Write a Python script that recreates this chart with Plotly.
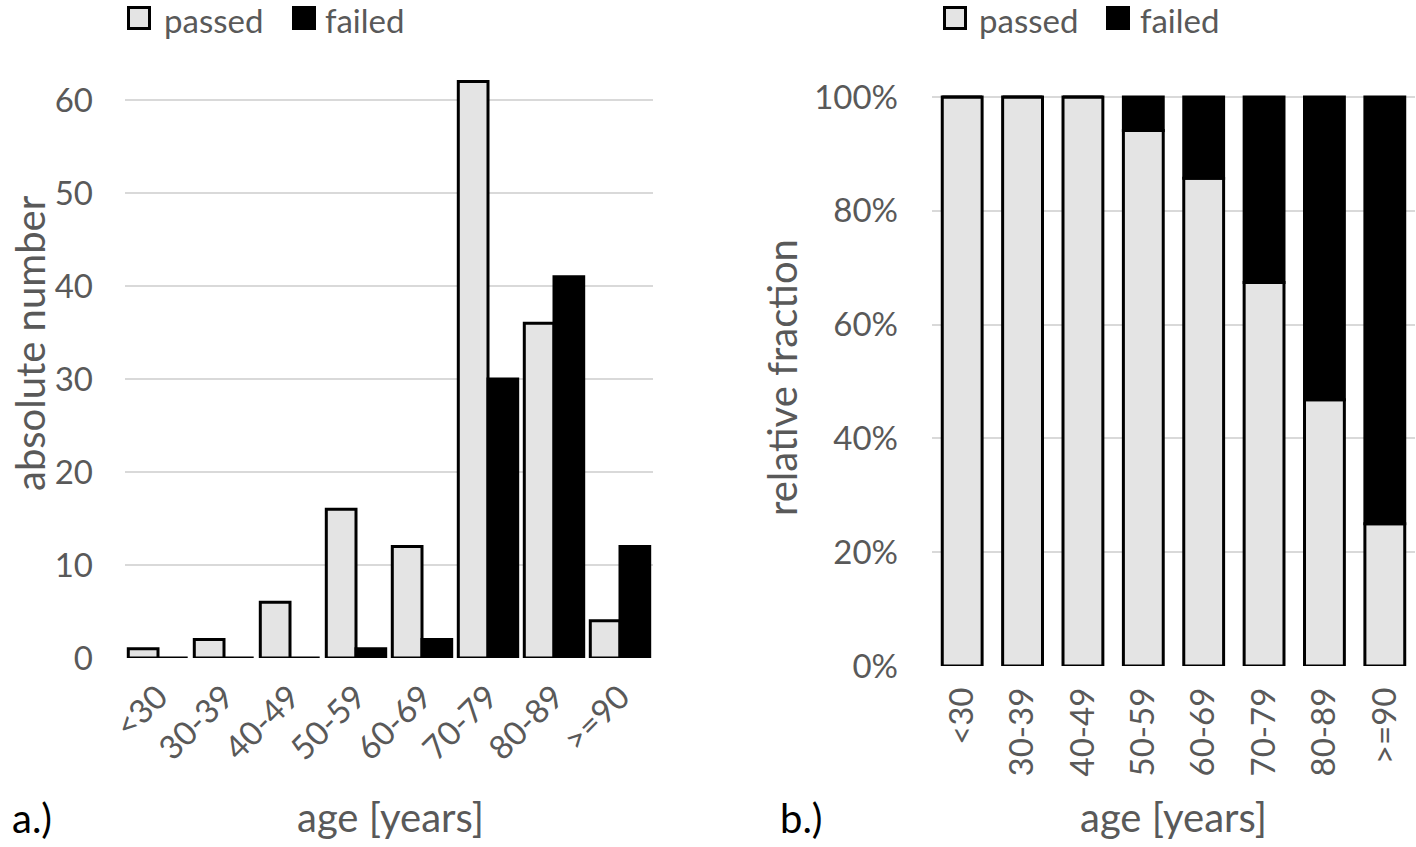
import plotly.graph_objects as go
from plotly.subplots import make_subplots

ages = ["<30", "30-39", "40-49", "50-59", "60-69", "70-79", "80-89", ">=90"]
passed = [1, 2, 6, 16, 12, 62, 36, 4]
failed = [0, 0, 0, 1, 2, 30, 41, 12]
# relative fraction in percent
passed_pct = [100, 100, 100, 94.1, 85.7, 67.4, 46.8, 25.0]
failed_pct = [0, 0, 0, 5.9, 14.3, 32.6, 53.2, 75.0]
y_ticks_abs = [0, 10, 20, 30, 40, 50, 60]
y_ticks_rel = [0, 20, 40, 60, 80, 100]
y_ticks_rel_text = ["0%", "20%", "40%", "60%", "80%", "100%"]

W, H = 1416, 847
GRAY_FILL = "#e4e4e4"
TXT = "#595959"
GRID = "#d9d9d9"
FONT = "Lato, Open Sans, sans-serif"
FS = 33      # tick labels / legend
FT = 40      # axis titles


def px(x):
    return x / W


def py(y):
    return 1 - y / H


fig = make_subplots(rows=1, cols=2)

passed_style = dict(color=GRAY_FILL, line=dict(color="black", width=3))
failed_style = dict(color="black", line=dict(color="black", width=3))

fig.add_trace(go.Bar(x=ages, y=passed, name="passed", marker=passed_style, showlegend=False), row=1, col=1)
fig.add_trace(go.Bar(x=ages, y=failed, name="failed", marker=failed_style, showlegend=False), row=1, col=1)

# panel b: stacked (failed sits on top of passed)
fig.add_trace(go.Bar(x=ages, y=passed_pct, name="passed", marker=passed_style, showlegend=False,
                     offsetgroup="rel", width=0.66), row=1, col=2)
fig.add_trace(go.Bar(x=ages, y=failed_pct, base=passed_pct, name="failed", marker=failed_style, showlegend=False,
                     offsetgroup="rel", width=0.66), row=1, col=2)

axis_common = dict(showline=False, zeroline=False, ticks="", automargin=False,
                   tickfont=dict(size=FS, color=TXT, family=FONT))

fig.update_layout(
    width=W, height=H,
    margin=dict(l=0, r=0, t=0, b=0),
    paper_bgcolor="white", plot_bgcolor="white",
    font=dict(family=FONT, color=TXT, size=FS),
    barmode="group", bargap=0.1, bargroupgap=0,
    showlegend=False,
    xaxis=dict(domain=[px(125), px(653)], tickangle=-45, ticklabelstandoff=12, **axis_common),
    yaxis=dict(domain=[py(658), py(53.5)], range=[0, 65], tickvals=y_ticks_abs,
               gridcolor=GRID, gridwidth=2, ticklabelstandoff=31, **axis_common),
    xaxis2=dict(domain=[px(932), px(1415)], tickangle=-90, ticklabelstandoff=14, **axis_common),
    yaxis2=dict(domain=[py(666), py(74.2)], range=[0, 104], tickvals=y_ticks_rel, ticktext=y_ticks_rel_text,
                gridcolor=GRID, gridwidth=2, ticklabelstandoff=33, **axis_common),
)

# axis titles and panel labels
titles = [
    ("absolute number", 30, 343, -90),
    ("relative fraction", 782, 378, -90),
    ("age [years]", 390, 817, 0),
    ("age [years]", 1173, 817, 0),
]
for text, x, y, ang in titles:
    fig.add_annotation(text=text, x=px(x), y=py(y), xref="paper", yref="paper", showarrow=False,
                       textangle=ang, xanchor="center", yanchor="middle", font=dict(size=FT, color=TXT))
for text, x in [("a.)", 10), ("b.)", 778)]:
    fig.add_annotation(text=text, x=px(x), y=py(818), xref="paper", yref="paper", showarrow=False,
                       xanchor="left", yanchor="middle", font=dict(size=FT, color="black"))

# legends drawn above each panel
legend_items = [
    # (square left, label left, name, fill)
    (127, 162, "passed", GRAY_FILL),
    (292, 323, "failed", "black"),
    (943, 977, "passed", GRAY_FILL),
    (1106, 1138, "failed", "black"),
]
for sq_x, tx, name, fill in legend_items:
    fig.add_shape(type="rect", xref="paper", yref="paper",
                  x0=px(sq_x + 1.5), x1=px(sq_x + 22.5), y0=py(28.5), y1=py(7.5),
                  fillcolor=fill, line=dict(color="black", width=3))
    fig.add_annotation(text=name, x=px(tx), y=py(20), xref="paper", yref="paper", showarrow=False,
                       xanchor="left", yanchor="middle", font=dict(size=FS, color=TXT))

# drop the default 8px body margin so the figure fills the window exactly
fig.write_html("out.html", config={"displayModeBar": False},
               post_script="document.body.style.margin='0px';")
